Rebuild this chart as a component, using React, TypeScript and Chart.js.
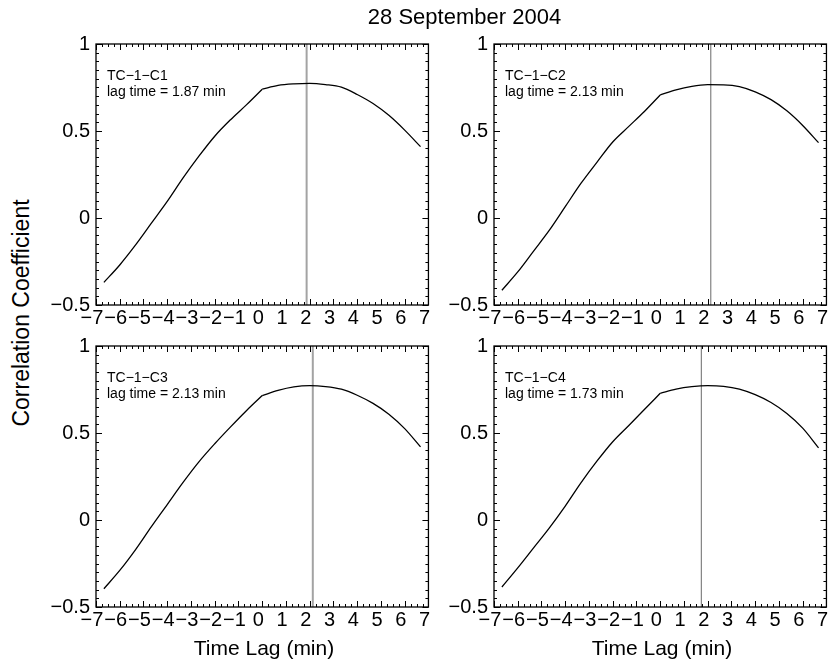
import React, { useEffect, useRef } from "react";
import { Chart, registerables } from "chart.js";

Chart.register(...registerables);

// ---------- data ----------
const lagMinutes = [
  -6.667, -6, -5.333, -4.667, -4, -3.333, -2.667, -2, -1.333, -0.667, 0,
  0.667, 1.333, 2, 2.667, 3.333, 4, 4.667, 5.333, 6, 6.667,
];
const corrC1 = [
  -0.37, -0.27, -0.155, -0.03, 0.095, 0.23, 0.355, 0.47, 0.565, 0.65, 0.74,
  0.762, 0.771, 0.774, 0.767, 0.752, 0.71, 0.658, 0.59, 0.505, 0.41,
];
const corrC2 = [
  -0.415, -0.31, -0.19, -0.07, 0.065, 0.2, 0.32, 0.437, 0.525, 0.612, 0.707,
  0.737, 0.757, 0.766, 0.765, 0.755, 0.725, 0.68, 0.616, 0.532, 0.433,
];
const corrC3 = [
  -0.395, -0.29, -0.17, -0.038, 0.089, 0.216, 0.334, 0.438, 0.535, 0.628,
  0.715, 0.745, 0.765, 0.772, 0.767, 0.752, 0.717, 0.67, 0.608, 0.525, 0.42,
];
const corrC4 = [
  -0.385, -0.275, -0.16, -0.045, 0.08, 0.215, 0.338, 0.45, 0.542, 0.635,
  0.728, 0.752, 0.766, 0.772, 0.768, 0.752, 0.72, 0.675, 0.612, 0.528, 0.415,
];
const panelNames = ["TC\u22121\u2212C1", "TC\u22121\u2212C2", "TC\u22121\u2212C3", "TC\u22121\u2212C4"];
const peakLags = [1.87, 2.13, 2.13, 1.73];
const xRange = [-7, 7];
const yRange = [-0.5, 1];
const xMajorStep = 1;
const yMajorStep = 0.5;
const xMinorStep = 0.25;
const yMinorStep = 0.05;
const titleText = "28 September 2004";
const xTitle = "Time Lag (min)";
const yTitle = "Correlation Coefficient";

const series = [corrC1, corrC2, corrC3, corrC4];

// ---------- layout / style ----------
const FONT = '"Liberation Sans", Arial, Helvetica, sans-serif';
const frames = [
  { left: 96, top: 41 },
  { left: 494, top: 41 },
  { left: 96, top: 343 },
  { left: 494, top: 343 },
];
const PLOT_W = 336;
const PLOT_H = 264;
const Y_AXIS_W = 60;
const X_AXIS_H = 30;
const PAD_TOP = 15;
const PAD_RIGHT = 3;
const vlineStyles = [
  { color: "#a3a3a3", width: 2 },
  { color: "#6a6a6a", width: 1 },
  { color: "#a3a3a3", width: 2 },
  { color: "#6a6a6a", width: 1 },
];

const fmt = (v: number) => {
  const r = Math.round(v * 100) / 100;
  return String(r).replace("-", "\u2212");
};

const framePlugin = {
  id: "frameTicks",
  afterDatasetsDraw(chart: any, _args: any, opts: any) {
    const { ctx, chartArea: a, scales } = chart;
    const x = scales.x;
    const y = scales.y;
    ctx.save();
    ctx.strokeStyle = "#000";
    ctx.lineWidth = 1;
    ctx.beginPath();
    const nx = Math.round((xRange[1] - xRange[0]) / xMinorStep);
    const perMajorX = Math.round(xMajorStep / xMinorStep);
    for (let i = 0; i <= nx; i++) {
      const px = Math.round(x.getPixelForValue(xRange[0] + i * xMinorStep)) + 0.5;
      const len = i % perMajorX === 0 ? 6 : 3;
      ctx.moveTo(px, a.bottom);
      ctx.lineTo(px, a.bottom - len);
      ctx.moveTo(px, a.top);
      ctx.lineTo(px, a.top + len);
    }
    const ny = Math.round((yRange[1] - yRange[0]) / yMinorStep);
    const perMajorY = Math.round(yMajorStep / yMinorStep);
    for (let i = 0; i <= ny; i++) {
      const py = Math.round(y.getPixelForValue(yRange[0] + i * yMinorStep)) + 0.5;
      const len = i % perMajorY === 0 ? 6 : 3;
      ctx.moveTo(a.left, py);
      ctx.lineTo(a.left + len, py);
      ctx.moveTo(a.right, py);
      ctx.lineTo(a.right - len, py);
    }
    ctx.stroke();
    ctx.lineWidth = 1.3;
    ctx.strokeRect(a.left, a.top, a.right - a.left, a.bottom - a.top);
    ctx.fillStyle = "#000";
    ctx.font = `14px ${FONT}`;
    ctx.textAlign = "left";
    ctx.textBaseline = "alphabetic";
    ctx.fillText(opts.name, a.left + 11, a.top + 36);
    ctx.fillText(`lag time = ${opts.lag.toFixed(2)} min`, a.left + 11, a.top + 52);
    ctx.restore();
  },
};

export default function App() {
  const refs = [useRef<HTMLCanvasElement>(null), useRef<HTMLCanvasElement>(null), useRef<HTMLCanvasElement>(null), useRef<HTMLCanvasElement>(null)];

  useEffect(() => {
    const charts: Chart[] = [];
    refs.forEach((r, i) => {
      const cv = r.current;
      if (!cv) return;
      const pts = lagMinutes.map((t, k) => ({ x: t, y: series[i][k] }));
      const zeroIdx = lagMinutes.indexOf(0);
      const curveNeg = pts.slice(0, zeroIdx + 1);
      const curvePos = pts.slice(zeroIdx);
      const vline = [
        { x: peakLags[i], y: yRange[0] },
        { x: peakLags[i], y: yRange[1] },
      ];
      const curveStyle = {
        borderColor: "#000",
        borderWidth: 1.3,
        pointRadius: 0,
        cubicInterpolationMode: "monotone",
        fill: false,
      };
      const ch = new Chart(cv, {
        type: "line",
        data: {
          datasets: [
            { data: curveNeg, ...curveStyle },
            { data: curvePos, ...curveStyle },
            {
              data: vline,
              borderColor: vlineStyles[i].color,
              borderWidth: vlineStyles[i].width,
              pointRadius: 0,
              fill: false,
            },
          ],
        },
        options: {
          animation: false,
          responsive: false,
          devicePixelRatio: 1,
          layout: { padding: { left: 0, top: PAD_TOP, right: PAD_RIGHT, bottom: 0 } },
          plugins: {
            legend: { display: false },
            tooltip: { enabled: false },
            title: { display: false },
            frameTicks: { name: panelNames[i], lag: peakLags[i] },
          } as any,
          scales: {
            x: {
              type: "linear",
              min: xRange[0],
              max: xRange[1],
              grid: { display: false, drawTicks: false },
              border: { display: false },
              afterFit: (s: any) => {
                s.height = X_AXIS_H;
              },
              ticks: {
                stepSize: xMajorStep,
                autoSkip: false,
                maxRotation: 0,
                minRotation: 0,
                padding: 1,
                labelOffset: -4,
                color: "#000",
                font: { family: FONT, size: 20 },
                callback: (v: any) => fmt(Number(v)),
              },
            },
            y: {
              type: "linear",
              min: yRange[0],
              max: yRange[1],
              grid: { display: false, drawTicks: false },
              border: { display: false },
              afterFit: (s: any) => {
                s.width = Y_AXIS_W;
              },
              ticks: {
                stepSize: yMajorStep,
                padding: 6,
                color: "#000",
                font: { family: FONT, size: 20 },
                callback: (v: any) => fmt(Number(v)),
              },
            },
          },
        },
        plugins: [framePlugin],
      } as any);
      charts.push(ch);
    });
    return () => charts.forEach((c) => c.destroy());
  }, []);

  const cw = Y_AXIS_W + PLOT_W + PAD_RIGHT;
  const chh = PAD_TOP + PLOT_H + X_AXIS_H;

  return (
    <div style={{ position: "absolute", left: 0, top: 0, width: 833, height: 664, background: "#fff", fontFamily: FONT, color: "#000", overflow: "hidden" }}>
      {frames.map((f, i) => (
        <canvas
          key={i}
          ref={refs[i]}
          width={cw}
          height={chh}
          style={{ position: "absolute", left: f.left - Y_AXIS_W, top: f.top - PAD_TOP, width: cw, height: chh, display: "block" }}
        />
      ))}
      <div style={{ position: "absolute", left: 464.5, top: 6, transform: "translateX(-50%)", fontSize: 22, lineHeight: "22px", whiteSpace: "nowrap" }}>
        {titleText}
      </div>
      <div style={{ position: "absolute", left: 264, top: 637, transform: "translateX(-50%)", fontSize: 21, lineHeight: "21px", whiteSpace: "nowrap" }}>
        {xTitle}
      </div>
      <div style={{ position: "absolute", left: 662, top: 637, transform: "translateX(-50%)", fontSize: 21, lineHeight: "21px", whiteSpace: "nowrap" }}>
        {xTitle}
      </div>
      <div style={{ position: "absolute", left: 21, top: 313, transform: "translate(-50%, -50%) rotate(-90deg)", fontSize: 23, lineHeight: "23px", whiteSpace: "nowrap" }}>
        {yTitle}
      </div>
    </div>
  );
}
